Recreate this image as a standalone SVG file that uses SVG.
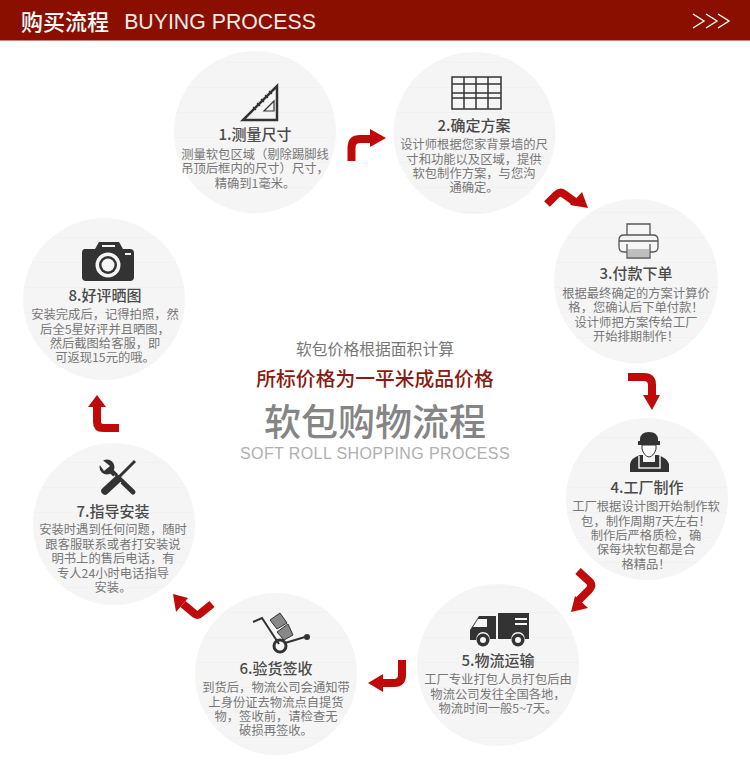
<svg xmlns="http://www.w3.org/2000/svg" width="750" height="782" viewBox="0 0 750 782">
<style>
text{font-family:"Noto Sans CJK SC","Noto Sans",sans-serif;text-anchor:middle}
.t{font-size:15px;font-weight:500;fill:#4a4a4a}
.b{font-size:12.300px;fill:#777}
.c{fill:url(#stripes)}
.a{fill:none;stroke:#c00a0a;stroke-width:8}
.h{fill:#c00a0a}
.i{fill:#333}
.o{fill:none;stroke:#333;stroke-width:1.500}
.g{fill:none;stroke:#555;stroke-width:1.300}
</style>
<defs>
<pattern id="stripes" width="20" height="25" patternUnits="userSpaceOnUse">
<rect width="20" height="25" fill="#f5f5f5"/><rect y="12" width="20" height="1" fill="#f1f1f1"/>
</pattern>
</defs>
<rect width="750" height="782" fill="#fff"/>
<g id="header">
<rect width="750" height="40.500" fill="#8a0f00"/>
<text x="65" y="30" style="font-size:22px;font-weight:500" fill="#fff">购买流程</text>
<text x="220" y="29" style="font-family:'Liberation Sans',sans-serif;font-size:21.300px" fill="#f5e8e6">BUYING PROCESS</text>
<path d="M693 14l11 7-11 7M706 14l11 7-11 7M718 14l11 7-11 7" fill="none" stroke="#fff" stroke-width="1.400"/>
</g>
<g id="center-title">
<text x="375" y="355" style="font-size:15.800px" fill="#777">软包价格根据面积计算</text>
<text x="375" y="386" style="font-size:19.800px;font-weight:500" fill="#8b1a10">所标价格为一平米成品价格</text>
<text x="375" y="436" style="font-size:37px;font-weight:500" fill="#858585">软包购物流程</text>
<text x="375" y="459" style="font-family:'Liberation Sans',sans-serif;font-size:16px;letter-spacing:.4px" fill="#b0b0b0">SOFT ROLL SHOPPING PROCESS</text>
</g>
<g id="connectors">
<path class="a" d="M351.500 161V148Q351.500 139 360 139H372"/><polygon class="h" points="370,129 386,138 370,147"/>
<path class="a" d="M547 204L556 195Q560 191 564 194L575 202"/><polygon class="h" points="582,192 588,208 570,205"/>
<path class="a" d="M628 377H644Q652 377 652 385V396"/><polygon class="h" points="643,395 660,395 652,410"/>
<path class="a" d="M578 571L590 582Q593 586 589 590L578 601"/><polygon class="h" points="575,596 588,608 571,612"/>
<path class="a" d="M402 660V675Q402 683 394 683H382"/><polygon class="h" points="383,674 383,692 368,683"/>
<path class="a" d="M212 604L201 613Q198 616 195 614L183 604"/><polygon class="h" points="188,598 176,612 173,594"/>
<path class="a" d="M119 428H103Q97 428 97 422V406"/><polygon class="h" points="88,407 106,407 97,395"/>
</g>
<g id="node1">
<circle class="c" cx="255" cy="132" r="81"/>
<path d="M277 86V120H243Z" fill="none" stroke="#333" stroke-width="2.500"/>
<path d="M274 111V101L264 111ZM272 94l-3 -3M268 98l-3 -3M264 102l-3 -3M260 106l-3 -3M256 110l-3 -3" fill="none" stroke="#333" stroke-width="1.200"/>
<text class="t" x="255" y="140">1.测量尺寸</text>
<text class="b"><tspan x="255" y="159">测量软包区域（剔除踢脚线</tspan><tspan x="255" y="173">吊顶后框内的尺寸）尺寸，</tspan><tspan x="255" y="188">精确到1毫米。</tspan></text>
</g>
<g id="node2">
<circle class="c" cx="474.500" cy="133" r="81"/>
<path class="o" d="M452 77H501V109H452ZM464 77V109M476 77V109M488 77V109M452 84H501M452 93H501M452 98H501"/>
<text class="t" x="474" y="131">2.确定方案</text>
<text class="b"><tspan x="474" y="149">设计师根据您家背景墙的尺</tspan><tspan x="474" y="164">寸和功能以及区域，提供</tspan><tspan x="474" y="178">软包制作方案，与您沟</tspan><tspan x="474" y="192">通确定。</tspan></text>
</g>
<g id="node3">
<circle class="c" cx="636" cy="281" r="82"/>
<path class="g" d="M627 235V224H650V235M627 252H624Q619 252 619 247V240Q619 235 624 235H653Q658 235 658 240V247Q658 252 653 252H650M627 244V258H650V244M619 241H658"/>
<path d="M628 250H649M628 252H649M628 254H649M628 256H649" stroke="#888" fill="none"/>
<text class="t" x="636" y="279">3.付款下单</text>
<text class="b"><tspan x="636" y="298">根据最终确定的方案计算价</tspan><tspan x="636" y="312">格，您确认后下单付款！</tspan><tspan x="636" y="327">设计师把方案传给工厂</tspan><tspan x="636" y="341">开始排期制作！</tspan></text>
</g>
<g id="node4">
<circle class="c" cx="647" cy="499" r="81"/>
<path class="i" d="M640 441V440Q640 432 649 432Q658 432 658 440V441H660V445H638V441Z"/>
<path d="M642 445H656V449Q654 456 649 457Q644 456 642 449Z" fill="#fff" stroke="#333"/>
<path class="i" d="M630 472V464Q631 458 640 455L643 455V462H655V455L658 455Q667 458 669 464V472Z"/>
<path d="M639 456V468H660V456" fill="none" stroke="#eee" stroke-width="1.500"/>
<text class="t" x="647" y="493">4.工厂制作</text>
<text class="b"><tspan x="646" y="511">工厂根据设计图开始制作软</tspan><tspan x="646" y="526">包，制作周期7天左右！</tspan><tspan x="646" y="540">制作后严格质检，确</tspan><tspan x="646" y="554">保每块软包都是合</tspan><tspan x="646" y="569">格精品！</tspan></text>
</g>
<g id="node5">
<circle class="c" cx="498" cy="665" r="81"/>
<path class="i" d="M498 613H529V639H525Q524 632 518 632Q512 632 511 639H498Z"/>
<path class="i" d="M470 640V630L479 616H496V639H490Q489 632 483 632Q477 632 476 640Z"/>
<path d="M478 619H487V627H473Z" fill="#f5f5f5"/>
<path d="M515 619H527M515 624H527" stroke="#f5f5f5" stroke-width="2"/>
<circle class="i" cx="483" cy="640" r="6.500"/><circle cx="483" cy="640" r="3" fill="#f5f5f5"/>
<circle class="i" cx="518" cy="640" r="6.500"/><circle cx="518" cy="640" r="3" fill="#f5f5f5"/>
<text class="t" x="498" y="666">5.物流运输</text>
<text class="b"><tspan x="498" y="684">工厂专业打包人员打包后由</tspan><tspan x="498" y="699">物流公司发往全国各地，</tspan><tspan x="498" y="713">物流时间一般5~7天。</tspan></text>
</g>
<g id="node6">
<circle class="c" cx="276" cy="674" r="81"/>
<path d="M253 622L262 618L279 644M285 643L305 637" fill="none" stroke="#333" stroke-width="2"/>
<circle cx="280" cy="646" r="6" fill="none" stroke="#333" stroke-width="3"/><circle cx="307" cy="637" r="3" fill="#333"/>
<path d="M270 620L280 613L287 623L277 629Z" fill="#888" stroke="#333"/>
<path d="M277 632L288 624L293 635L284 640Z" fill="#888" stroke="#333"/>
<text class="t" x="276" y="674">6.验货签收</text>
<text class="b"><tspan x="276" y="692">到货后，物流公司会通知带</tspan><tspan x="276" y="707">上身份证去物流点自提货</tspan><tspan x="276" y="721">物，签收前，请检查无</tspan><tspan x="276" y="735">破损再签收。</tspan></text>
</g>
<g id="node7">
<circle class="c" cx="114" cy="524" r="81"/>
<path d="M108 468L133 492" stroke="#333" stroke-width="5" stroke-linecap="round" fill="none"/>
<circle cx="107" cy="467" r="7.500" fill="#333"/><path d="M100 458L110 466L104 471L97 461Z" fill="#f5f5f5"/>
<path d="M135 461L118 478" stroke="#f5f5f5" stroke-width="5" fill="none"/>
<path d="M135 461L118 478" stroke="#333" stroke-width="3" fill="none"/>
<path d="M118 479L105 491" stroke="#f5f5f5" stroke-width="10" fill="none"/>
<path d="M118 479L105 491" stroke="#333" stroke-width="7.500" stroke-linecap="round" fill="none"/>
<text class="t" x="113" y="517">7.指导安装</text>
<text class="b"><tspan x="113" y="534">安装时遇到任何问题，随时</tspan><tspan x="113" y="549">跟客服联系或者打安装说</tspan><tspan x="113" y="563">明书上的售后电话，有</tspan><tspan x="113" y="578">专人24小时电话指导</tspan><tspan x="113" y="592">安装。</tspan></text>
</g>
<g id="node8">
<circle class="c" cx="104" cy="299" r="81"/>
<path class="i" d="M85 249H95L99 242H119L123 249H130Q134 249 134 253V277Q134 281 130 281H86Q82 281 82 277V253Q82 249 85 249Z"/>
<circle cx="108" cy="265" r="12.500" fill="#f5f5f5"/><circle cx="108" cy="265" r="9" fill="#333"/><circle cx="108" cy="265" r="6.500" fill="#f5f5f5"/>
<path d="M102 246H115" stroke="#f5f5f5" stroke-width="2"/><path d="M125 254H131" stroke="#f5f5f5" stroke-width="2"/>
<text class="t" x="105" y="301">8.好评晒图</text>
<text class="b"><tspan x="105" y="319">安装完成后，记得拍照，然</tspan><tspan x="105" y="334">后全5星好评并且晒图，</tspan><tspan x="105" y="348">然后截图给客服，即</tspan><tspan x="105" y="362">可返现15元的哦。</tspan></text>
</g>
</svg>
